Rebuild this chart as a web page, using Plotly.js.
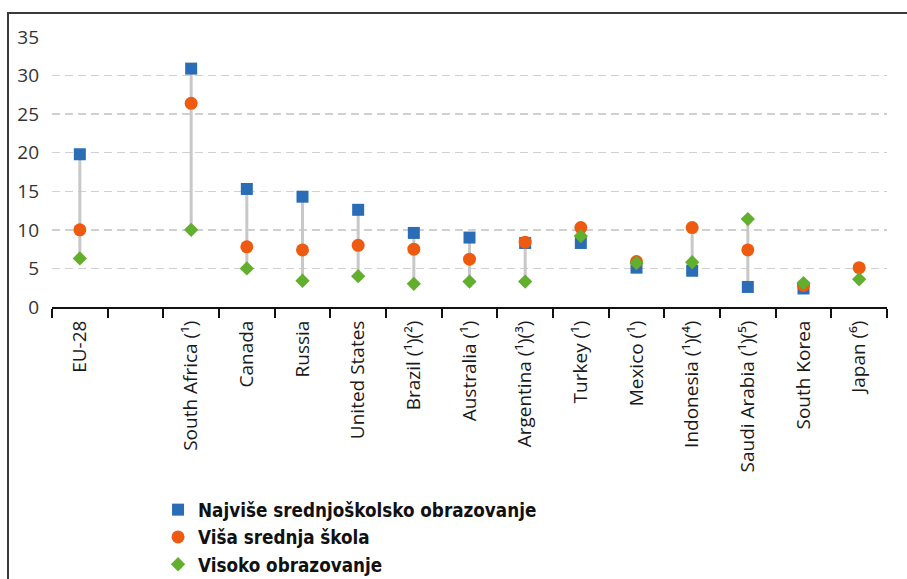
<!DOCTYPE html>
<html><head><meta charset="utf-8">
<script src="https://cdn.plot.ly/plotly-3.0.1.min.js"></script>
<style>
html,body{margin:0;padding:0;background:#fff;overflow:hidden}
#chart{position:absolute;left:0;top:0;width:907px;height:579px}
#frame{position:absolute;left:7px;top:12px;width:920px;height:600px;border-top:2px solid #3a3a3a;border-left:2px solid #3a3a3a;pointer-events:none}
</style></head><body>
<div id="chart"></div><div id="frame"></div>
<script>
const categories = ["EU-28", " ", "South Africa (¹)", "Canada", "Russia", "United States", "Brazil (¹)(²)", "Australia (¹)", "Argentina (¹)(³)", "Turkey (¹)", "Mexico (¹)", "Indonesia (¹)(⁴)", "Saudi Arabia (¹)(⁵)", "South Korea", "Japan (⁶)"];
const lowerSecondary = [19.8, null, 30.9, 15.3, 14.3, 12.6, 9.6, 9.0, 8.3, 8.3, 5.1, 4.7, 2.6, 2.4, null];
const upperSecondary = [10.0, null, 26.4, 7.8, 7.4, 8.0, 7.5, 6.2, 8.4, 10.3, 5.9, 10.3, 7.4, 2.8, 5.1];
const tertiary = [6.3, null, 10.0, 5.0, 3.4, 4.0, 3.0, 3.3, 3.3, 9.2, 5.7, 5.8, 11.4, 3.1, 3.6];
const seriesNames = ["Najviše srednjoškolsko obrazovanje", "Viša srednja škola", "Visoko obrazovanje"];
const yTicks = [0, 5, 10, 15, 20, 25, 30, 35];

// connecting range lines built from the data
const lx = [], ly = [];
categories.forEach((c, i) => {
  const vals = [lowerSecondary[i], upperSecondary[i], tertiary[i]].filter(v => v !== null);
  if (vals.length < 2) return;
  lx.push(c, c, null);
  ly.push(Math.min(...vals), Math.max(...vals), null);
});

const traces = [
  {x: lx, y: ly, type: 'scatter', mode: 'lines', line: {color: '#c8c8c8', width: 3},
   showlegend: false, hoverinfo: 'skip', connectgaps: false},
  {x: categories, y: lowerSecondary, name: seriesNames[0], type: 'scatter', mode: 'markers',
   legendgroup: 'a', marker: {symbol: 'square', size: 12, color: '#2b6cb7'}},
  {x: categories, y: upperSecondary, name: seriesNames[1], type: 'scatter', mode: 'markers',
   legendgroup: 'b', marker: {symbol: 'circle', size: 13, color: '#ee5a10'}},
  {x: categories, y: tertiary, name: seriesNames[2], type: 'scatter', mode: 'markers',
   legendgroup: 'c', marker: {symbol: 'diamond', size: 11, color: '#62ae2d'}}
];

const layout = {
  width: 907, height: 579,
  margin: {l: 52, r: 20, t: 37, b: 272, pad: 0, autoexpand: false},
  paper_bgcolor: 'rgba(0,0,0,0)', plot_bgcolor: 'rgba(0,0,0,0)',
  font: {family: 'Open Sans, sans-serif', color: '#222'},
  xaxis: {
    type: 'category', categoryorder: 'array', categoryarray: categories,
    range: [-0.5, categories.length - 0.5], automargin: false,
    tickson: 'boundaries', ticks: 'outside', ticklen: 9, tickwidth: 2, tickcolor: '#111',
    showline: true, linecolor: '#111', linewidth: 2, showgrid: false, zeroline: false,
    tickangle: -90, ticklabelstandoff: 4,
    tickfont: {size: 19, family: 'Open Sans, sans-serif', color: '#1a1a1a'},
    fixedrange: true
  },
  yaxis: {
    range: [0, 35], tickvals: yTicks, ticks: '', showline: false, zeroline: false, automargin: false,
    showgrid: true, gridcolor: '#d0d0d0', gridwidth: 1.5, griddash: '8px,5px',
    tickfont: {size: 19, family: 'Open Sans, sans-serif', color: '#333'},
    ticklabelstandoff: 12, fixedrange: true
  },
  showlegend: true,
  legend: {
    x: 0.127, xanchor: 'left', yref: 'container', y: 0.152, yanchor: 'top', orientation: 'v',
    tracegroupgap: 0, bgcolor: 'rgba(0,0,0,0)',
    font: {size: 18.7, family: 'DejaVu Sans Condensed, sans-serif', color: '#111', weight: 'bold'}
  }
};

Plotly.newPlot('chart', traces, layout, {displayModeBar: false, staticPlot: true});
</script>
</body></html>
